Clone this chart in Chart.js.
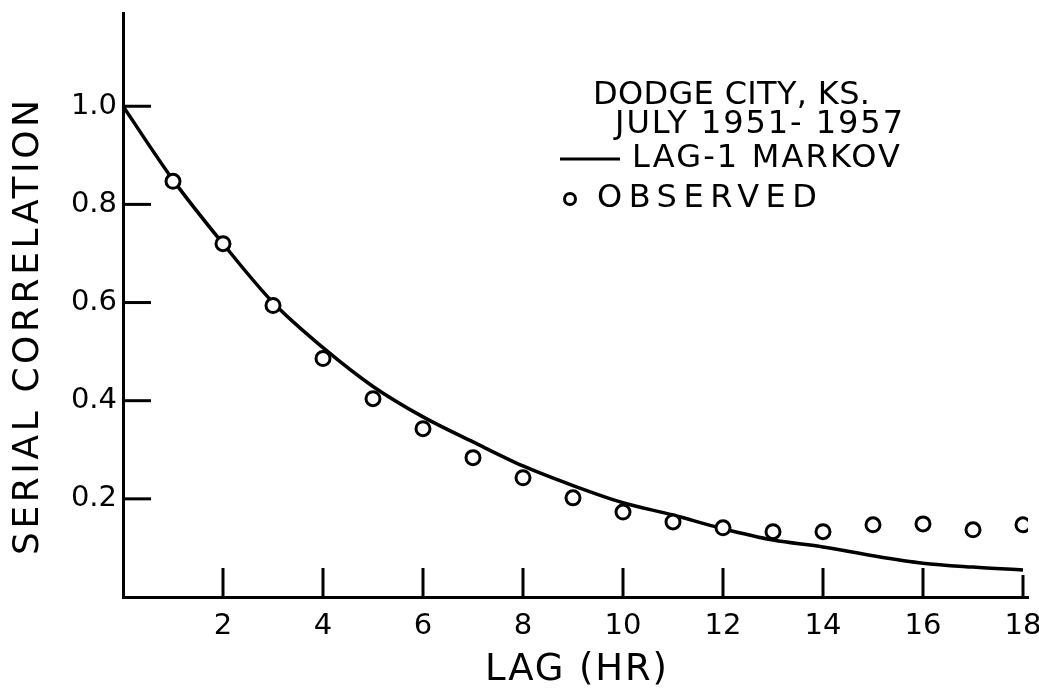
<!DOCTYPE html>
<html lang="en">

<head>
    <meta charset="UTF-8">
    <title>Serial correlation - Dodge City</title>
    <script src="https://cdn.jsdelivr.net/npm/chart.js@4.4.1/dist/chart.umd.min.js"></script>
    <style>
        html, body { margin: 0; padding: 0; background: #fff; }
        #wrap { width: 1039px; height: 692px; }
    </style>
</head>

<body>
    <div id="wrap"><canvas id="myChart" width="1039" height="692"></canvas></div>
    <script>
        // values
        const markovLags = [0, 1, 2, 3, 4, 5, 6, 7, 8, 9, 10, 11, 12, 13, 14, 15, 16, 17, 18];
        const markovCorr = [1.0, 0.85, 0.72, 0.60, 0.508, 0.429, 0.367, 0.316, 0.267, 0.227, 0.192, 0.167, 0.139, 0.116, 0.102, 0.084, 0.069, 0.061, 0.055];
        const obsLags = [1, 2, 3, 4, 5, 6, 7, 8, 9, 10, 11, 12, 13, 14, 15, 16, 17, 18];
        const obsCorr = [0.847, 0.720, 0.594, 0.486, 0.404, 0.343, 0.284, 0.243, 0.202, 0.173, 0.153, 0.141, 0.133, 0.133, 0.147, 0.149, 0.137, 0.147];
        const xTicks = [2, 4, 6, 8, 10, 12, 14, 16, 18];
        const yTicks = [0.2, 0.4, 0.6, 0.8, 1.0];
        const legendTitle = ['DODGE CITY, KS.', 'JULY 1951- 1957'];
        const seriesNames = ['LAG-1 MARKOV', 'OBSERVED'];

        const FONT = '"DejaVu Sans", "Liberation Sans", sans-serif';
        const INK = '#000';

        // write text stretched to a given width with letter spacing
        function fitText(ctx, text, x, y, width) {
            ctx.letterSpacing = '0px';
            const w = ctx.measureText(text).width;
            const sp = (width - w) / (text.length - 1);
            ctx.letterSpacing = sp + 'px';
            ctx.fillText(text, x, y);
            ctx.letterSpacing = '0px';
        }

        const decorations = {
            id: 'decorations',
            afterDraw(chart) {
                const ctx = chart.ctx;
                const xs = chart.scales.x, ys = chart.scales.y;
                ctx.save();
                ctx.strokeStyle = INK;
                ctx.fillStyle = INK;
                ctx.lineWidth = 3;
                ctx.lineCap = 'butt';

                // inward ticks
                for (const v of yTicks) {
                    const py = ys.getPixelForValue(v);
                    ctx.beginPath();
                    ctx.moveTo(xs.left, py);
                    ctx.lineTo(xs.left + 28, py);
                    ctx.stroke();
                }
                for (const v of xTicks) {
                    const px = xs.getPixelForValue(v);
                    ctx.beginPath();
                    ctx.moveTo(px, ys.bottom);
                    ctx.lineTo(px, ys.bottom - (v === 18 ? 22 : 29));
                    ctx.stroke();
                }

                // axis titles
                ctx.save();
                ctx.translate(29, 327);
                ctx.rotate(-Math.PI / 2);
                ctx.font = '36px ' + FONT;
                ctx.textAlign = 'left';
                ctx.textBaseline = 'middle';
                fitText(ctx, 'SERIAL CORRELATION', -228, 0, 455);
                ctx.restore();

                ctx.font = '37px ' + FONT;
                ctx.textAlign = 'left';
                ctx.textBaseline = 'middle';
                fitText(ctx, 'LAG (HR)', 485, 670, 182);

                // legend block
                ctx.font = '32px ' + FONT;
                fitText(ctx, legendTitle[0], 593, 96, 277);
                fitText(ctx, legendTitle[1], 615, 125, 288);

                ctx.lineWidth = 3;
                ctx.beginPath();
                ctx.moveTo(560, 159);
                ctx.lineTo(620, 159);
                ctx.stroke();
                fitText(ctx, seriesNames[0], 632, 159, 268);

                ctx.beginPath();
                ctx.arc(570, 199, 5.5, 0, Math.PI * 2);
                ctx.stroke();
                fitText(ctx, seriesNames[1], 597, 199, 220);
                ctx.restore();
            }
        };

        const ctx = document.getElementById('myChart').getContext('2d');
        const myChart = new Chart(ctx, {
            type: 'scatter',
            data: {
                datasets: [{
                    label: seriesNames[0],
                    data: markovLags.map((x, i) => ({ x: x, y: markovCorr[i] })),
                    showLine: true,
                    borderColor: INK,
                    borderWidth: 3.5,
                    pointRadius: 0,
                    cubicInterpolationMode: 'monotone',
                    order: 2
                }, {
                    label: seriesNames[1],
                    data: obsLags.map((x, i) => ({ x: x, y: obsCorr[i] })),
                    showLine: false,
                    pointRadius: 7,
                    pointBorderWidth: 3,
                    pointBorderColor: INK,
                    pointBackgroundColor: '#fff',
                    order: 1
                }]
            },
            options: {
                responsive: false,
                animation: false,
                events: [],
                layout: { padding: { top: 13, right: 11, left: 0, bottom: 0 } },
                plugins: {
                    legend: { display: false },
                    tooltip: { enabled: false }
                },
                scales: {
                    x: {
                        type: 'linear',
                        min: 0,
                        max: 18.1,
                        afterBuildTicks: (s) => { s.ticks = xTicks.map(v => ({ value: v })); },
                        afterFit: (s) => { s.height = 95; s.paddingLeft = 0; s.paddingRight = 0; },
                        grid: { display: false, drawTicks: false },
                        border: { display: true, color: INK, width: 3 },
                        ticks: {
                            color: INK,
                            padding: 12,
                            maxRotation: 0,
                            font: { family: FONT, size: 29 },
                            callback: (v) => String(v)
                        }
                    },
                    y: {
                        type: 'linear',
                        min: 0,
                        max: 1.19,
                        afterBuildTicks: (s) => { s.ticks = yTicks.map(v => ({ value: v })); },
                        afterFit: (s) => { s.width = 123; s.paddingTop = 0; s.paddingBottom = 0; },
                        grid: { display: false, drawTicks: false },
                        border: { display: true, color: INK, width: 3 },
                        ticks: {
                            color: INK,
                            padding: 6,
                            font: { family: FONT, size: 29 },
                            callback: (v) => Number(v).toFixed(1)
                        }
                    }
                }
            },
            plugins: [decorations]
        });
    </script>

</body>

</html>
